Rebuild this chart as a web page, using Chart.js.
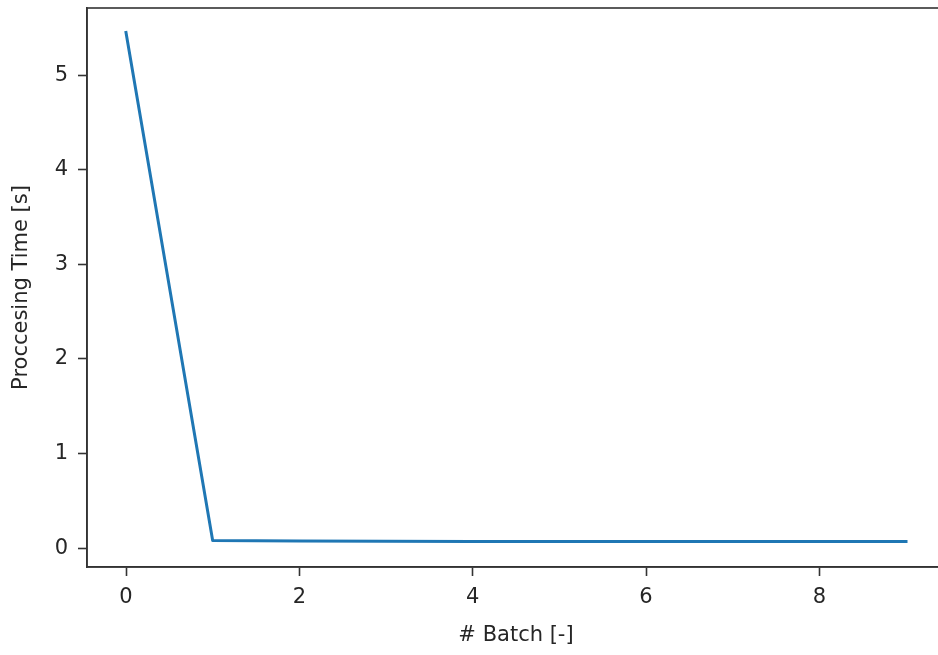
<!DOCTYPE html>
<html>
<head>
<meta charset="utf-8">
<script src="https://cdn.jsdelivr.net/npm/chart.js@4/dist/chart.umd.min.js"></script>
<style>
  html, body { margin: 0; padding: 0; background: #fff; overflow: hidden; }
  #wrap { width: 938px; height: 655px; overflow: hidden; }
  canvas { display: block; }
</style>
</head>
<body>
<div id="wrap"><canvas id="timeChart" width="960" height="655"></canvas></div>
<script>
// batch index and processing time
const batches = [0, 1, 2, 3, 4, 5, 6, 7, 8, 9];
const procTimes = [5.45, 0.08, 0.075, 0.072, 0.07, 0.07, 0.07, 0.07, 0.07, 0.07];

const xTicks = [0, 2, 4, 6, 8];
const yTicks = [0, 1, 2, 3, 4, 5];

const FONT = "'DejaVu Sans', sans-serif";
const INK = "#262626";

/* draws the top/right spines, the lib only gives us left/bottom */
const frameBox = {
  id: "frameBox",
  afterDraw(chart) {
    const { ctx, chartArea: a } = chart;
    ctx.save();
    ctx.strokeStyle = "#333";
    ctx.lineWidth = 1.6;
    ctx.strokeRect(a.left, a.top, a.right - a.left, a.bottom - a.top);
    ctx.restore();
  },
};

const ctx = document.getElementById("timeChart").getContext("2d");

new Chart(ctx, {
  type: "line",
  data: {
    datasets: [
      {
        data: batches.map((b, i) => ({ x: b, y: procTimes[i] })),
        borderColor: "#1f77b4",
        borderWidth: 3,
        borderCapStyle: "square",
        borderJoinStyle: "round",
        pointRadius: 0,
        tension: 0,
        fill: false,
      },
    ],
  },
  options: {
    responsive: false,
    animation: false,
    layout: { padding: { left: 0, top: 8, right: 15, bottom: 0 } },
    plugins: { legend: { display: false }, tooltip: { enabled: false } },
    scales: {
      x: {
        type: "linear",
        min: -0.45,
        max: 9.45,
        afterBuildTicks: (s) => { s.ticks = xTicks.map((v) => ({ value: v })); },
        afterFit: (s) => {
          s.height = 88;
          s.paddingLeft = 0;
          s.paddingRight = 0;
        },
        grid: { drawOnChartArea: false, tickLength: 9, tickColor: "#333", tickWidth: 1.6 },
        border: { color: "#333", width: 1.6 },
        ticks: { color: INK, font: { family: FONT, size: 21 }, padding: 9 },
        title: {
          display: true,
          text: "# Batch [-]",
          color: INK,
          font: { family: FONT, size: 21 },
          padding: { top: 0, bottom: 7 },
        },
      },
      y: {
        min: -0.2,
        max: 5.71,
        afterBuildTicks: (s) => { s.ticks = yTicks.map((v) => ({ value: v })); },
        afterFit: (s) => {
          s.width = 87;
          s.paddingTop = 0;
          s.paddingBottom = 0;
        },
        grid: { drawOnChartArea: false, tickLength: 9, tickColor: "#333", tickWidth: 1.6 },
        border: { color: "#333", width: 1.6 },
        ticks: { color: INK, font: { family: FONT, size: 21 }, padding: 10 },
        title: {
          display: true,
          text: "Proccesing Time [s]",
          color: INK,
          font: { family: FONT, size: 21 },
          padding: { top: 9, bottom: 0 },
        },
      },
    },
  },
  plugins: [frameBox],
});
</script>
</body>
</html>
